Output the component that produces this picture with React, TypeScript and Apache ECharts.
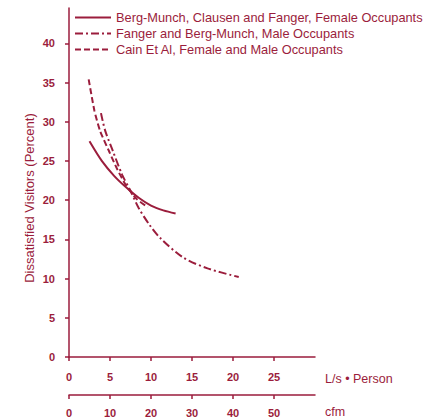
import React, { useEffect, useRef } from "react";
import * as echarts from "echarts";

const COLOR = "#9b1d3c";

const seriesNames = [
  "Berg-Munch, Clausen and Fanger, Female Occupants",
  "Fanger and Berg-Munch, Male Occupants",
  "Cain Et Al, Female and Male Occupants",
];

// [L/s per person, % dissatisfied]
const bergMunchFemale: [number, number][] = [
  [2.5, 27.5], [4, 25.0], [5.5, 23.1], [7, 21.6], [8.5, 20.3], [10, 19.3], [11.5, 18.7], [13, 18.3],
];
const fangerMale: [number, number][] = [
  [3.9, 31.1], [4.4, 28.9], [5.3, 26.4], [6.5, 23.2], [7.5, 21.2], [8.5, 19.0], [9.85, 16.8],
  [11.1, 15.2], [13.9, 12.7], [16.9, 11.3], [20.7, 10.2],
];
const cain: [number, number][] = [
  [2.4, 35.4], [3.1, 31.4], [3.8, 28.8], [4.9, 26.2], [5.9, 23.9], [7, 21.8], [8.3, 20.1], [9.6, 19.1],
];

const yTicks = [0, 5, 10, 15, 20, 25, 30, 35, 40];
const lsTicks = [0, 5, 10, 15, 20, 25];
const cfmTicks = [0, 10, 20, 30, 40, 50];

const FONT = "Liberation Sans, Arial, sans-serif";

export default function App() {
  const ref = useRef<HTMLDivElement>(null);
  useEffect(() => {
    if (!ref.current) return;
    const chart = echarts.init(ref.current, undefined, { renderer: "svg" });
    const axisLine = { show: true, lineStyle: { color: COLOR, width: 1.5 } };
    const axisTick = { show: true, length: 4, lineStyle: { color: COLOR, width: 1.5 } };
    const labelStyle = { color: COLOR, fontSize: 11, fontFamily: FONT, fontWeight: "bold" as const };
    chart.setOption({
      animation: false,
      backgroundColor: "#ffffff",
      grid: { left: 69, right: 116, top: 8, bottom: 62, containLabel: false },
      legend: {
        orient: "vertical",
        left: 69,
        top: 6,
        itemWidth: 36,
        itemHeight: 14,
        itemGap: 3,
        itemStyle: { opacity: 0 },
        textStyle: { color: COLOR, fontSize: 12.8, fontFamily: FONT },
        data: seriesNames,
      },
      xAxis: [
        {
          type: "value",
          min: 0,
          max: 30,
          interval: 5,
          position: "bottom",
          name: "L/s • Person",
          nameLocation: "end",
          nameGap: 10,
          nameTextStyle: { color: COLOR, fontSize: 12.5, fontFamily: FONT, align: "left", verticalAlign: "top", padding: [15, 0, 0, 0] },
          axisLine,
          axisTick: { ...axisTick, customValues: lsTicks },
          axisLabel: { ...labelStyle, margin: 14, customValues: lsTicks },
          splitLine: { show: false },
        },
        {
          type: "value",
          min: 0,
          max: 60,
          interval: 10,
          position: "bottom",
          offset: 38,
          name: "cfm",
          nameLocation: "end",
          nameGap: 10,
          nameTextStyle: { color: COLOR, fontSize: 12.5, fontFamily: FONT, align: "left", verticalAlign: "top", padding: [10, 0, 0, 0] },
          axisLine,
          axisTick: { ...axisTick, customValues: cfmTicks },
          axisLabel: { ...labelStyle, margin: 12, customValues: cfmTicks },
          splitLine: { show: false },
        },
      ],
      yAxis: {
        type: "value",
        min: 0,
        max: 44.5,
        interval: 5,
        axisLine,
        axisTick: { ...axisTick, customValues: yTicks },
        axisLabel: { ...labelStyle, margin: 14, customValues: yTicks },
        splitLine: { show: false },
      },
      graphic: [
        {
          type: "text",
          x: 29,
          y: 198,
          rotation: Math.PI / 2,
          style: {
            text: "Dissatisfied Visitors (Percent)",
            fill: COLOR,
            font: `13px ${FONT}`,
            align: "center",
            verticalAlign: "middle",
          },
        },
      ],
      series: [
        {
          name: seriesNames[0],
          type: "line",
          xAxisIndex: 0,
          data: bergMunchFemale,
          smooth: 0.3,
          symbol: "none",
          lineStyle: { color: COLOR, width: 2, type: "solid" },
          itemStyle: { color: COLOR },
        },
        {
          name: seriesNames[1],
          type: "line",
          xAxisIndex: 0,
          data: fangerMale,
          smooth: 0.3,
          symbol: "none",
          lineStyle: { color: COLOR, width: 2, type: [8, 3, 2, 3] },
          itemStyle: { color: COLOR },
        },
        {
          name: seriesNames[2],
          type: "line",
          xAxisIndex: 0,
          data: cain,
          smooth: 0.2,
          symbol: "none",
          lineStyle: { color: COLOR, width: 2, type: [6, 3] },
          itemStyle: { color: COLOR },
        },
      ],
    });
    return () => chart.dispose();
  }, []);
  return (
    <div
      ref={ref}
      style={{ position: "fixed", left: 0, top: 0, width: 431, height: 419, background: "#fff" }}
    />
  );
}
